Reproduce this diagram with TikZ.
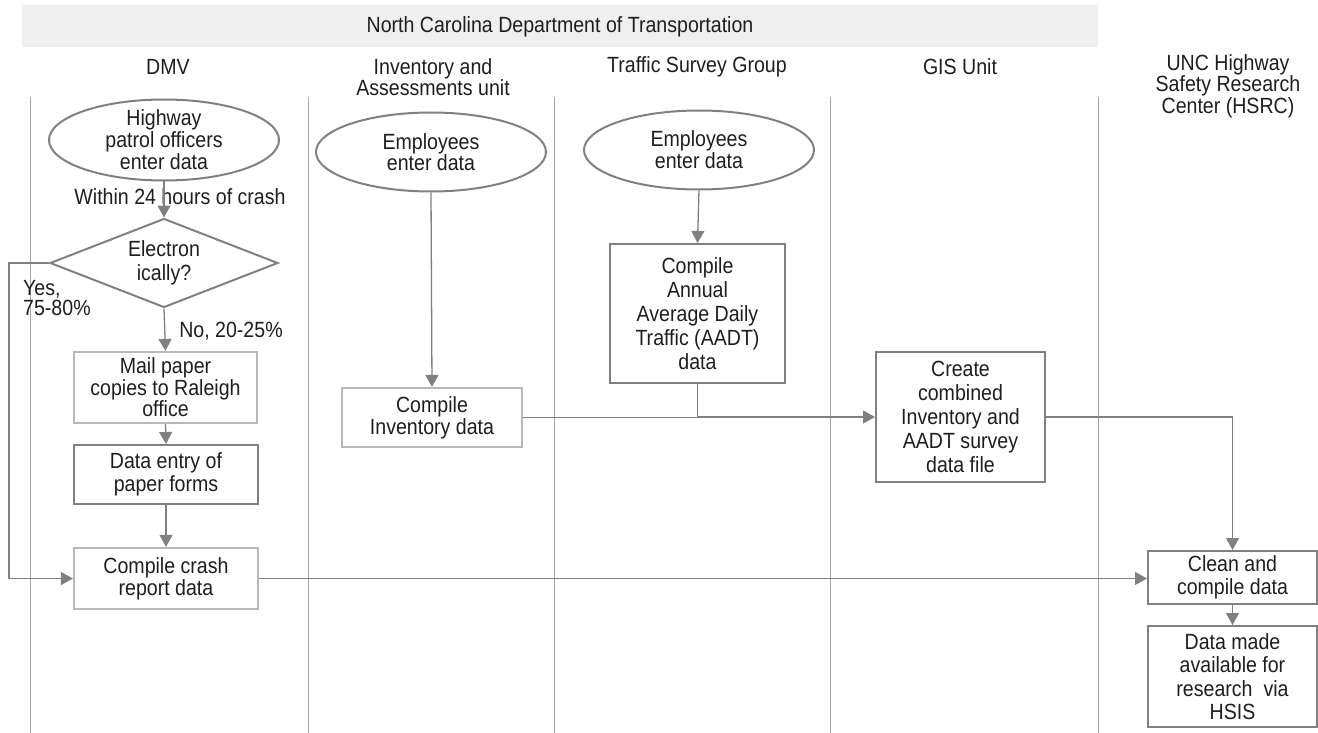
\documentclass[tikz,border=0pt]{standalone}
\usepackage{fontspec}
\setmainfont{Liberation Sans}[FakeStretch=0.89]
\usetikzlibrary{shapes.geometric,arrows.meta}
\definecolor{conn}{RGB}{128,128,128}
\definecolor{bLight}{RGB}{184,184,184}
\definecolor{bDark}{RGB}{128,128,128}
\definecolor{laneC}{RGB}{165,165,165}
\definecolor{hdrC}{RGB}{239,239,239}
\definecolor{txtC}{RGB}{30,30,30}
\tikzset{
  txt/.style={font=\fontsize{22}{23}\selectfont, text=txtC, align=center, inner sep=0pt},
  laneline/.style={draw=laneC, line width=1pt},
  startell/.style={ellipse, draw=bDark, line width=2pt, inner sep=0pt},
  decis/.style={diamond, draw=bDark, line width=2pt, inner sep=0pt},
  lbox/.style={txt, rectangle, draw=bLight, line width=2.2pt},
  dbox/.style={txt, rectangle, draw=bDark, line width=2pt},
  arr/.style={draw=conn, line width=1.3pt, -{Triangle[length=12pt,width=13pt]}},
  plain/.style={draw=conn, line width=1.3pt},
}
\begin{document}
\begin{tikzpicture}[x=1pt,y=-1pt]
\useasboundingbox (0,0) rectangle (1318,733);
% header
\fill[hdrC] (22,5) rectangle (1098,47);
\node[txt] (title) at (560,27) {North Carolina Department of Transportation};
% lane labels
\node[txt] (lDMV) at (168,67) {DMV};
\node[txt, font=\fontsize{22}{21.5}\selectfont] (lInv) at (433,77) {Inventory and\\Assessments unit};
\node[txt] (lTraf) at (697,67) {Traffic Survey Group};
\node[txt] (lGIS) at (960,67) {GIS Unit};
\node[txt, font=\fontsize{22}{19.5}\selectfont] (lUNC) at (1228,86) {UNC Highway\\Safety Research\\Center (HSRC)};
% lane lines
\foreach \x/\n in {30/a,308/b,554/c,830/d,1098/e}{
  \coordinate (t\n) at (\x,97);
  \coordinate (b\n) at (\x,733);
  \draw[laneline] (t\n) -- (b\n);
}
% DMV lane
\node[startell, minimum width=230pt, minimum height=81pt,
  label={[txt, font=\fontsize{22}{22}\selectfont]center:Highway\\patrol officers\\enter data}] (e1) at (164,140) {};
\node[decis, minimum width=228pt, minimum height=89pt, aspect=2.56,
  label={[txt, font=\fontsize{22}{24}\selectfont]center:Electron\\ically?}] (dec) at (164,263) {};
\node[txt] (w24) at (180,197) {Within 24 hours of crash};
\node[txt, align=left, anchor=west, font=\fontsize{22}{20}\selectfont] (yes) at (23,298) {Yes,\\75-80\%};
\node[txt] (no) at (231,331) {No, 20-25\%};
\node[lbox, minimum width=183pt, minimum height=71pt, font=\fontsize{22}{21.5}\selectfont] (mail) at (165.5,387.5) {Mail paper\\copies to Raleigh\\office};
\node[dbox, minimum width=184pt, minimum height=59pt] (entry) at (166,474.5) {Data entry of\\paper forms};
\node[lbox, minimum width=184pt, minimum height=61pt, font=\fontsize{22}{22}\selectfont] (crash) at (166,578.5) {Compile crash\\report data};
% Inventory lane
\node[startell, minimum width=230pt, minimum height=79pt,
  label={[txt, font=\fontsize{22}{21.5}\selectfont]center:Employees\\enter data}] (e2) at (431,152) {};
\node[lbox, minimum width=180pt, minimum height=59pt, font=\fontsize{22}{22}\selectfont] (inv) at (432,417.5) {Compile\\Inventory data};
% Traffic lane
\node[startell, minimum width=230pt, minimum height=79pt,
  label={[txt, font=\fontsize{22}{22}\selectfont]center:Employees\\enter data}] (e3) at (699,150) {};
\node[dbox, minimum width=175pt, minimum height=139pt, font=\fontsize{22}{24}\selectfont] (aadt) at (697.5,313.5) {Compile\\Annual\\Average Daily\\Traffic (AADT)\\data};
% GIS lane
\node[dbox, minimum width=169pt, minimum height=130pt, font=\fontsize{22}{24}\selectfont] (create) at (960.5,417) {Create\\combined\\Inventory and\\AADT survey\\data file};
% HSRC lane
\node[dbox, minimum width=169pt, minimum height=53pt] (clean) at (1232.5,577.5) {Clean and\\compile data};
\node[dbox, minimum width=169pt, minimum height=101pt, font=\fontsize{22}{23.5}\selectfont] (made) at (1232.5,676.5) {Data made\\available for\\research\ \ via\\HSIS};
% connectors
\coordinate (yl) at (9,263);
\draw[arr] (e1.south) -- (dec.north);
\draw[arr] (dec.west) -- (yl) |- (crash.west);
\draw[arr] (dec.south) -- (mail.north);
\draw[arr] (mail.south) -- (entry.north);
\draw[arr] (entry.south) -- (crash.north);
\draw[arr] (crash.east) -- (crash.east -| clean.west);
\draw[arr] (e2.south) -- (inv.north);
\draw[arr] (e3.south) -- (aadt.north);
\draw[plain] (inv.east) -- (inv.east -| aadt.south);
\draw[arr] (aadt.south) |- (create.west);
\draw[arr] (create.east) -| (clean.north);
\draw[arr] (clean.south) -- (made.north);
\end{tikzpicture}
\end{document}
